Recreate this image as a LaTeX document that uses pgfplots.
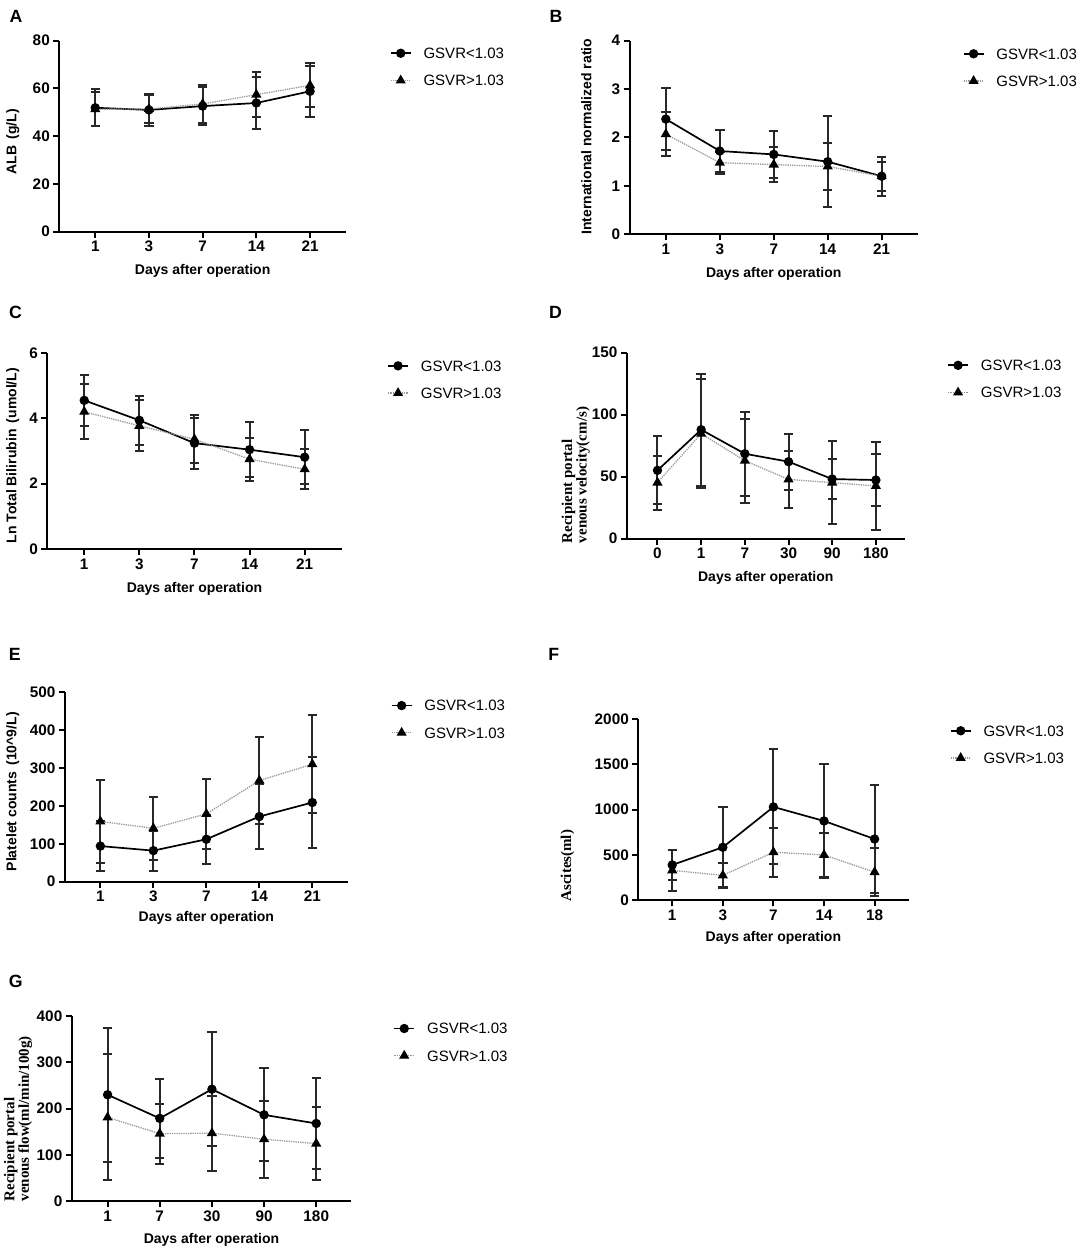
\documentclass[border=0pt]{standalone}
\usepackage{fontspec}
\setmainfont{Liberation Sans}
\newfontfamily\tnr{Liberation Serif}
\usepackage{pgfplots}
\usepackage{pgfplotstable}
\pgfplotsset{compat=1.18}
\definecolor{errc}{RGB}{40,40,40}

\pgfplotstableread{
x c ce t te
0 51.9 7.7 51.3 7.1
1 51.0 6.8 51.4 6.0
2 52.6 7.9 53.5 8.1
3 53.9 10.7 57.4 9.3
4 58.8 10.6 61.3 9.2
}\tabA
\pgfplotstableread{
x c ce t te
0 2.38 0.64 2.07 0.46
1 1.72 0.43 1.48 0.23
2 1.65 0.48 1.44 0.36
3 1.50 0.94 1.40 0.49
4 1.20 0.40 1.20 0.30
}\tabB
\pgfplotstableread{
x c ce t te
0 4.55 0.79 4.20 0.84
1 3.94 0.75 3.77 0.78
2 3.24 0.78 3.36 0.74
3 3.04 0.84 2.75 0.66
4 2.81 0.82 2.44 0.61
}\tabC
\pgfplotstableread{
x c ce t te
0 55.1 27.4 45.2 21.8
1 87.9 45.2 84.7 44.2
2 68.5 33.9 62.9 34.0
3 62.1 22.5 47.8 23.3
4 48.1 16.0 45.2 33.3
5 47.3 20.8 42.5 35.2
}\tabD
\pgfplotstableread{
x c ce t te
0 94 66 159 109
1 82 53 141 83
2 112 65 179 92
3 172 86 267 115
4 209 121 310 129
}\tabE
\pgfplotstableread{
x c ce t te
0 390 167 330 223
1 585 440 275 137
2 1030 635 530 272
3 875 632 500 246
4 676 600 310 263
}\tabF
\pgfplotstableread{
x c ce t te
0 230 145 181 136
1 179 85.5 146 64.5
2 242 123 147 81
3 186.6 100.5 134 82.7
4 168 98 124.5 79.5
}\tabG

\pgfplotsset{
  legend image code/.code={\draw[mark repeat=2,mark phase=2,#1] plot coordinates {(0pt,0pt)(10pt,0pt)(20pt,0pt)};},
  panel/.style={
    scale only axis,
    axis x line*=bottom, axis y line*=left,
    axis line style={line width=2pt, -},
    tick align=outside,
    major tick length=6pt,
    every tick/.style={black, line width=2pt},
    ymin=0,
    xmin=-0.67, xmax=4.67,
    xtick={0,...,4},
    /pgf/number format/assume math mode=true,
    /pgf/number format/1000 sep={},
    ticklabel style={font=\fontsize{15.3}{17}\selectfont\bfseries},
    label style={font=\fontsize{14}{16}\selectfont\bfseries},
    xlabel={Days after operation},
    xlabel style={at={(axis description cs:0.5,-0.206)}, anchor=center},
    clip=false,
    legend cell align=left,
    legend style={draw=none, fill=none, anchor=west, font=\fontsize{15}{17}\selectfont, row sep=16.5pt, column sep=12pt, inner sep=0pt, outer sep=0pt, nodes={inner sep=0pt, text height=10.7pt, text depth=0pt}},
    error bars/y dir=both, error bars/y explicit,
    error bars/error mark=|,
    error bars/error bar style={solid, line width=2pt, errc},
    error bars/error mark options={solid, line width=2pt, errc, mark size=4.7pt},
  },
  ser1/.style={black, line width=1.7pt, mark=*, mark size=3.8pt, mark options={solid, fill=black}},
  ser2/.style={black!40, line width=1.3pt, densely dotted, mark=triangle*, mark size=4.6pt, mark options={solid, fill=black, draw=black}},
}

\begin{document}
\begin{tikzpicture}[x=1pt,y=1pt]
\useasboundingbox (0,0) rectangle (1084,1252);

\node[font=\fontsize{17.7}{19}\selectfont\bfseries] at (15.9,1235.7) {A};
\node[font=\fontsize{17.7}{19}\selectfont\bfseries] at (555.9,1235.7) {B};
\node[font=\fontsize{17.7}{19}\selectfont\bfseries] at (15.5,939.7) {C};
\node[font=\fontsize{17.7}{19}\selectfont\bfseries] at (555.5,939.7) {D};
\node[font=\fontsize{17.7}{19}\selectfont\bfseries] at (14.8,597.7) {E};
\node[font=\fontsize{17.7}{19}\selectfont\bfseries] at (553.8,597.7) {F};
\node[font=\fontsize{17.7}{19}\selectfont\bfseries] at (15.7,270.3) {G};

% A
\begin{axis}[panel, at={(59.3pt,1020.3pt)}, anchor=south west, width=286.7pt, height=191pt,
  ymax=80, ytick={0,20,40,60,80}, xticklabels={1,3,7,14,21},
  ylabel={ALB\,\ (g/L)}, ylabel style={at={(axis description cs:-0.162,0.471)}, anchor=center},
  legend style={at={(axis description cs:1.153,0.863)}}]
\addplot[ser1] table[x=x, y=c, y error=ce] {\tabA};
\addplot[ser2] table[x=x, y=t, y error=te] {\tabA};
\legend{GSVR<1.03, GSVR>1.03}
\end{axis}

% B
\begin{axis}[panel, at={(629.7pt,1017.7pt)}, anchor=south west, width=288.1pt, height=193.6pt,
  ymax=4, ytick={0,1,2,3,4}, xticklabels={1,3,7,14,21},
  ylabel={International normalized ratio}, ylabel style={at={(axis description cs:-0.15,0.504)}, anchor=center},
  legend style={at={(axis description cs:1.156,0.862)}}]
\addplot[ser1] table[x=x, y=c, y error=ce] {\tabB};
\addplot[ser2] table[x=x, y=t, y error=te] {\tabB};
\legend{GSVR<1.03, GSVR>1.03}
\end{axis}

% C
\begin{axis}[panel, at={(47.3pt,703pt)}, anchor=south west, width=294.3pt, height=196pt,
  ymax=6, ytick={0,2,4,6}, xticklabels={1,3,7,14,21},
  ylabel={Ln Total Bilirubin\,\ (umol/L)}, ylabel style={at={(axis description cs:-0.117,0.476)}, anchor=center},
  legend style={at={(axis description cs:1.155,0.865)}}]
\addplot[ser1] table[x=x, y=c, y error=ce] {\tabC};
\addplot[ser2] table[x=x, y=t, y error=te] {\tabC};
\legend{GSVR<1.03, GSVR>1.03}
\end{axis}

% D
\begin{axis}[panel, at={(626.9pt,713.3pt)}, anchor=south west, width=277.8pt, height=186pt,
  xmin=-0.70, xmax=5.66, xtick={0,...,5},
  ymax=150, ytick={0,50,100,150}, xticklabels={0,1,7,30,90,180},
  xlabel style={at={(axis description cs:0.5,-0.21)}},
  ylabel={Recipient portal\\venous velocity(cm/s)},
  ylabel style={at={(axis description cs:-0.184,-0.043)}, anchor=west, align=left, font=\tnr\fontsize{15}{14.5}\selectfont\bfseries},
  legend style={at={(axis description cs:1.153,0.859)}}]
\addplot[ser1] table[x=x, y=c, y error=ce] {\tabD};
\addplot[ser2] table[x=x, y=t, y error=te] {\tabD};
\legend{GSVR<1.03, GSVR>1.03}
\end{axis}

% E
\begin{axis}[panel, at={(64.9pt,370.3pt)}, anchor=south west, width=282.9pt, height=189.4pt,
  ymax=500, ytick={0,100,...,500}, xticklabels={1,3,7,14,21},
  xlabel style={at={(axis description cs:0.5,-0.19)}},
  ylabel={Platelet counts\,\ (10\textasciicircum 9/L)}, ylabel style={at={(axis description cs:-0.184,0.475)}, anchor=center},
  legend style={at={(axis description cs:1.152,0.858)}}]
\addplot[ser1] table[x=x, y=c, y error=ce] {\tabE};
\addplot[ser2] table[x=x, y=t, y error=te] {\tabE};
\legend{GSVR<1.03, GSVR>1.03}
\end{axis}

% F
\begin{axis}[panel, at={(638.3pt,351.7pt)}, anchor=south west, width=270.2pt, height=181.3pt,
  ymax=2000, ytick={0,500,...,2000}, xticklabels={1,3,7,14,18},
  xlabel style={at={(axis description cs:0.5,-0.21)}},
  ylabel={Ascites(ml)},
  ylabel style={at={(axis description cs:-0.262,-0.026)}, anchor=west, font=\tnr\fontsize{15}{14.5}\selectfont\bfseries},
  legend style={at={(axis description cs:1.153,0.86)}}]
\addplot[ser1] table[x=x, y=c, y error=ce] {\tabF};
\addplot[ser2] table[x=x, y=t, y error=te] {\tabF};
\legend{GSVR<1.03, GSVR>1.03}
\end{axis}

% G
\begin{axis}[panel, at={(71.8pt,50.7pt)}, anchor=south west, width=279.4pt, height=185.3pt,
  xmin=-0.686, xmax=4.67,
  ymax=400, ytick={0,100,...,400}, xticklabels={1,7,30,90,180},
  ylabel={Recipient portal\\venous flow(ml/min/100g)},
  ylabel style={at={(axis description cs:-0.192,-0.02)}, anchor=west, align=left, font=\tnr\fontsize{15}{14.5}\selectfont\bfseries},
  legend style={at={(axis description cs:1.151,0.859)}}]
\addplot[ser1] table[x=x, y=c, y error=ce] {\tabG};
\addplot[ser2] table[x=x, y=t, y error=te] {\tabG};
\legend{GSVR<1.03, GSVR>1.03}
\end{axis}

\end{tikzpicture}
\end{document}
